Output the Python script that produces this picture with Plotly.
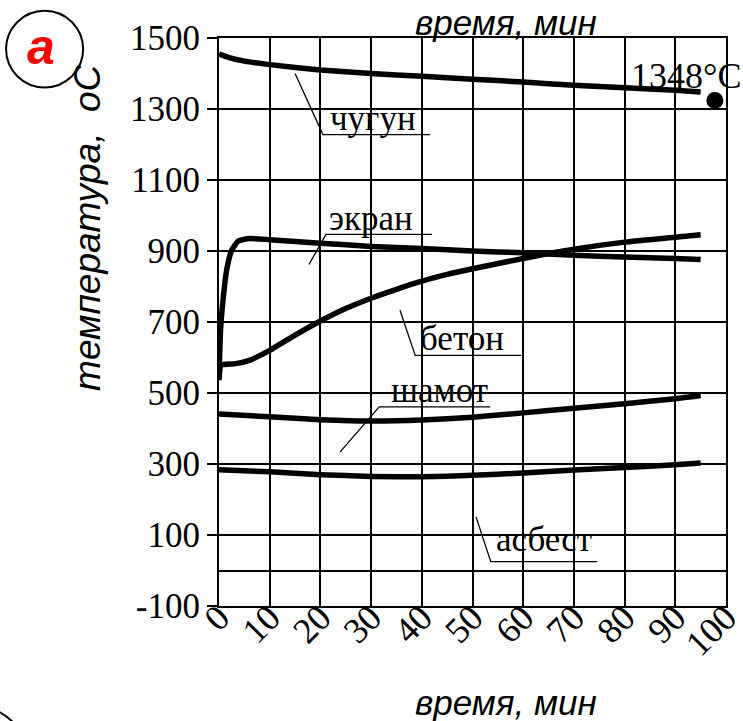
import plotly.graph_objects as go

# ---- data (time, min ; temperature, °C) ----
chugun_x = [0, 2, 5, 10, 20, 30, 40, 50, 60, 70, 80, 90, 95]
chugun_y = [1455, 1445, 1435, 1425, 1410, 1400, 1392, 1384, 1376, 1367, 1360, 1353, 1348]

ekran_x = [0, 0.3, 0.85, 1.5, 2.5, 3.8, 6, 10, 20, 30, 40, 50, 60, 70, 80, 90, 95]
ekran_y = [536, 677, 770, 846, 902, 928, 935, 932, 922, 913, 907, 900, 895, 888, 883, 879, 876]

beton_x = [0, 0.4, 1.5, 3, 6, 10, 15, 20, 25, 30, 35, 40, 45, 50, 60, 70, 80, 90, 95]
beton_y = [540, 578, 581, 582, 592, 620, 663, 703, 738, 767, 792, 815, 834, 850, 879, 905, 925, 939, 946]

shamot_x = [0, 10, 20, 30, 40, 50, 60, 70, 80, 90, 95]
shamot_y = [441, 433, 425, 421, 424, 432, 444, 457, 470, 484, 493]

asbest_x = [0, 10, 20, 30, 40, 50, 60, 70, 80, 90, 95]
asbest_y = [284, 278, 270, 265, 264, 268, 275, 283, 290, 298, 303]

x_ticks = [0, 10, 20, 30, 40, 50, 60, 70, 80, 90, 100]
y_ticks = [-100, 100, 300, 500, 700, 900, 1100, 1300, 1500]

# labels: text, text position, leader polyline
label_text = ["чугун", "экран", "бетон", "шамот", "асбест"]
label_pos_x = [30.4, 30.0, 47.9, 43.5, 64.1]
label_pos_y = [1273, 992, 654, 508, 86]
leader_x = [[15.0, 20.5, 41.6], [17.75, 21.1, 42.0], [35.7, 38.7, 59.6],
            [23.9, 31.6, 53.5], [50.7, 53.6, 74.6]]
leader_y = [[1400, 1228, 1228], [862, 947, 947], [733, 606, 606],
            [334, 461, 461], [151, 25, 25]]

end_point_x = [97.8]
end_point_y = [1324]
end_label = "1348°C"
end_label_x = 92.1
end_label_y = 1392

serif = "Liberation Serif"
sans = "Liberation Sans"

fig = go.Figure()

for xs, ys in [(chugun_x, chugun_y), (ekran_x, ekran_y), (beton_x, beton_y),
               (shamot_x, shamot_y), (asbest_x, asbest_y)]:
    fig.add_trace(go.Scatter(x=xs, y=ys, mode="lines",
                             line=dict(color="black", width=5.5, shape="spline", smoothing=0.5),
                             showlegend=False, hoverinfo="skip"))

for lx, ly in zip(leader_x, leader_y):
    fig.add_trace(go.Scatter(x=lx, y=ly, mode="lines",
                             line=dict(color="black", width=1.3),
                             showlegend=False, hoverinfo="skip"))

fig.add_trace(go.Scatter(x=end_point_x, y=end_point_y, mode="markers",
                         marker=dict(color="black", size=17),
                         cliponaxis=False, showlegend=False, hoverinfo="skip"))

for t, x, y in zip(label_text, label_pos_x, label_pos_y):
    fig.add_annotation(x=x, y=y, text=t, showarrow=False, xanchor="center", yanchor="middle",
                       font=dict(family=serif, size=35, color="black"))

fig.add_annotation(x=end_label_x, y=end_label_y, text=end_label, showarrow=False,
                   xanchor="center", yanchor="middle",
                   font=dict(family=serif, size=36, color="black"))

# titles
title_font = dict(family=sans, size=35, color="black")
fig.add_annotation(xref="paper", yref="paper", x=0.567, y=-0.17, text="<i>время, мин</i>",
                   xanchor="center", yanchor="middle", showarrow=False, font=title_font)
fig.add_annotation(xref="paper", yref="paper", x=0.567, y=1.028, text="<i>время, мин</i>",
                   xanchor="center", yanchor="middle", showarrow=False, font=title_font)
fig.add_annotation(xref="paper", yref="paper", x=-0.258, y=0.666, text="<i>температура,  оС</i>",
                   textangle=-90, xanchor="center", yanchor="middle", showarrow=False,
                   font=dict(family=sans, size=37, color="black"))

# panel mark
fig.add_shape(type="circle", xref="paper", yref="paper",
              x0=-0.420, x1=-0.268, y0=0.913, y1=1.048,
              line=dict(color="black", width=2))
fig.add_annotation(xref="paper", yref="paper", x=-0.351, y=0.985, text="<b><i>а</i></b>",
                   xanchor="center", yanchor="middle",
                   showarrow=False, font=dict(family=sans, size=50, color="red"))
fig.add_shape(type="circle", xref="paper", yref="paper",
              x0=-0.6134, x1=-0.3688, y0=-0.3923, y1=-0.1741,
              line=dict(color="black", width=2))

fig.update_xaxes(range=[0, 100], tickvals=x_ticks, ticktext=[str(v) for v in x_ticks],
                 tickangle=-45, ticks="", showgrid=True, gridcolor="black", gridwidth=1.5,
                 showline=True, linecolor="black", linewidth=2, mirror=True, automargin=False,
                 ticklabeloverflow="allow", ticklabelstandoff=-26,
                 zeroline=False, tickfont=dict(family=serif, size=36, color="black"))
fig.update_yaxes(range=[-100, 1500], tickvals=y_ticks, ticktext=[str(v) for v in y_ticks],
                 ticks="outside", ticklen=10, tickcolor="black", tickwidth=1.5,
                 showgrid=True, gridcolor="black", gridwidth=1.5, automargin=False,
                 showline=True, linecolor="black", linewidth=2, mirror=True,
                 zeroline=True, zerolinecolor="black", zerolinewidth=1.5,
                 ticklabeloverflow="allow",
                 tickfont=dict(family=serif, size=35, color="black"))

fig.update_layout(width=743, height=721, margin=dict(l=219, r=17, t=38, b=115),
                  plot_bgcolor="white", paper_bgcolor="white")

fig.write_html("out.html")
